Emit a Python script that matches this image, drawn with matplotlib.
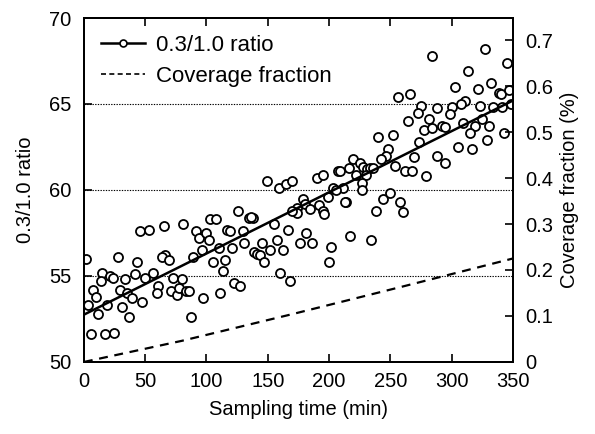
import matplotlib
matplotlib.use("Agg")
import matplotlib.pyplot as plt
from matplotlib.lines import Line2D

plt.rcParams["font.family"] = ["Liberation Sans", "DejaVu Sans"]

# ── Data ─────────────────────────────────────────────────────────────────

time_min = [
    2, 45.7, 53.3, 28, 43.5, 15, 13.6, 7.6, 9.8, 3.5, 11.7, 21, 23.4, 33.4,
    41.6, 50, 56.5, 29.4, 34.8, 38.9, 47, 19, 30.7, 37, 5.5, 17, 24.5,
    65.3, 81, 102.8, 107.7, 91.4, 94, 99.5, 102.2, 117, 66, 64, 69.6, 89,
    96, 105.5, 110.4, 73, 80, 60.6, 59.3, 70.7, 75.6, 77.7, 83, 85.8, 96.8,
    111, 87, 113.6,
    149, 159, 165, 170, 126, 135, 137.6, 136.3, 119, 129.4, 155, 166.6,
    121, 131, 145, 138.7, 141, 143.6, 146.8, 151.7, 157.7, 162.6, 115,
    122.3, 127, 160, 168,
    219.7, 225, 216.4, 207.4, 208.8, 189.8, 194.7, 222.4, 203, 211, 205.5,
    179, 180.3, 174, 173.5, 169.5, 184.3, 191.9, 194.7, 196, 199.3, 213.7,
    213, 181, 176, 185.7, 217.5, 202, 200,
    284.3, 256.4, 266, 275.4, 272.7, 281.6, 277.3, 283.6, 264.6, 240,
    251.8, 273.5, 248.2, 246.3, 242, 269, 288, 253.7, 261.8, 267.3, 227.8,
    230.6, 233.3, 236, 230, 226.5, 226.5, 279, 244, 250, 238, 257.7, 260,
    234,
    327, 345, 313.5, 332.5, 339, 340.7, 347, 302.6, 321.6, 310.8, 307.3,
    300.7, 323, 287.7, 299, 333.8, 341.5, 348.8, 291.8, 294.5, 309.4,
    325.2, 330.6, 319, 315, 329, 342.6, 305.3, 317, 294.5,
]
ratio = [
    56.0, 57.6, 57.7, 56.1, 55.8, 55.2, 54.7, 54.2, 53.8, 53.3, 52.8, 55.0,
    54.9, 54.8, 55.1, 54.9, 55.15, 54.2, 54.0, 53.7, 53.5, 53.3, 53.2, 52.6,
    51.6, 51.6, 51.7,
    57.9, 58.0, 58.3, 58.3, 57.6, 57.2, 57.5, 57.1, 57.7, 56.2, 56.1, 55.9,
    56.1, 56.5, 55.8, 56.6, 54.9, 54.8, 54.4, 54.0, 54.1, 53.9, 54.3, 54.1,
    54.1, 53.7, 54.0, 52.6, 55.3,
    60.5, 60.1, 60.35, 60.5, 58.8, 58.35, 58.35, 58.4, 57.6, 57.6, 58.0,
    57.7, 56.6, 56.9, 56.9, 56.4, 56.3, 56.2, 55.8, 56.5, 57.1, 56.5, 55.9,
    54.6, 54.4, 55.2, 54.7,
    61.8, 61.55, 61.25, 61.1, 61.1, 60.7, 60.9, 60.9, 60.1, 60.1, 60.0,
    59.5, 59.2, 58.95, 58.65, 58.8, 58.9, 59.1, 58.8, 58.6, 59.6, 59.3,
    59.3, 57.5, 56.9, 56.9, 57.3, 56.7, 55.8,
    67.8, 65.4, 65.6, 64.9, 64.5, 64.1, 63.5, 63.6, 64.0, 63.1, 63.2, 62.8,
    62.4, 62.0, 61.8, 61.9, 62.0, 61.4, 61.1, 61.1, 61.35, 61.2, 61.3,
    61.25, 60.9, 60.4, 60.0, 60.8, 59.5, 59.8, 58.8, 59.3, 58.7, 57.1,
    68.2, 67.4, 66.9, 66.2, 65.65, 65.6, 65.8, 66.0, 65.9, 65.2, 65.0,
    64.8, 64.9, 64.75, 64.4, 64.8, 64.8, 65.0, 63.7, 63.65, 63.9, 64.1,
    63.7, 63.7, 63.3, 62.9, 63.3, 62.5, 62.4, 61.55,
]

# regression line end points
fit_time = [0, 350]
fit_ratio = [52.75, 65.2]

# coverage fraction curve (right axis)
cov_time = [0, 80, 170, 260, 350]
cov_frac = [0.0, 0.046, 0.104, 0.164, 0.225]

x_ticks = [0, 50, 100, 150, 200, 250, 300, 350]
left_ticks = [50, 55, 60, 65, 70]
right_ticks = [0, 0.1, 0.2, 0.3, 0.4, 0.5, 0.6, 0.7]
right_labels = ["0", "0.1", "0.2", "0.3", "0.4", "0.5", "0.6", "0.7"]
grid_levels = [55, 60, 65]

# ── Figure ───────────────────────────────────────────────────────────────

fig = plt.figure(figsize=(5.95, 4.34), dpi=100)
ax = fig.add_axes([0.141, 0.166, 0.721, 0.7925])
ax2 = ax.twinx()

for lvl in grid_levels:
    ax.axhline(lvl, color="black", lw=0.8, ls=(0, (1.2, 1.2)), zorder=1)

ax.plot(time_min, ratio, ls="none", marker="o", ms=6.5, mfc="white",
        mec="black", mew=1.3, zorder=3)
ax.plot(fit_time, fit_ratio, color="black", lw=1.8, zorder=4)
ax2.plot(cov_time, cov_frac, color="black", lw=1.6, ls=(0, (4, 3)))

ax.set_xlim(0, 350)
ax.set_ylim(50, 70)
ax2.set_ylim(0, 0.748)

ax.set_xticks(x_ticks)
ax.set_yticks(left_ticks)
ax2.set_yticks(right_ticks)
ax2.set_yticklabels(right_labels)

ax.tick_params(axis="x", direction="in", length=6, width=1.2, top=True,
               labelsize=14.5, pad=7)
ax.tick_params(axis="y", direction="in", length=6, width=1.2,
               labelsize=14.5, pad=9)
ax2.tick_params(axis="y", direction="in", length=6, width=1.2,
                labelsize=14.5, pad=9)

for a in (ax, ax2):
    for sp in a.spines.values():
        sp.set_linewidth(1.4)

ax.set_xlabel("Sampling time (min)", fontsize=14.5, labelpad=7)
ax.set_ylabel("0.3/1.0 ratio", fontsize=14.5, labelpad=10)
ax2.set_ylabel("Coverage fraction (%)", fontsize=14.5, labelpad=5)

handles = [
    Line2D([], [], color="black", lw=1.8, marker="o", ms=5, mfc="white",
           mec="black", mew=1.2),
    Line2D([], [], color="black", lw=1.2, ls=(0, (3, 2))),
]
ax.legend(handles, ["0.3/1.0 ratio", "Coverage fraction"], loc="upper left",
          frameon=False, fontsize=16, handlelength=2.0, handletextpad=0.5,
          borderaxespad=0.35, labelspacing=0.45)

fig.savefig("out.png", dpi=100)
